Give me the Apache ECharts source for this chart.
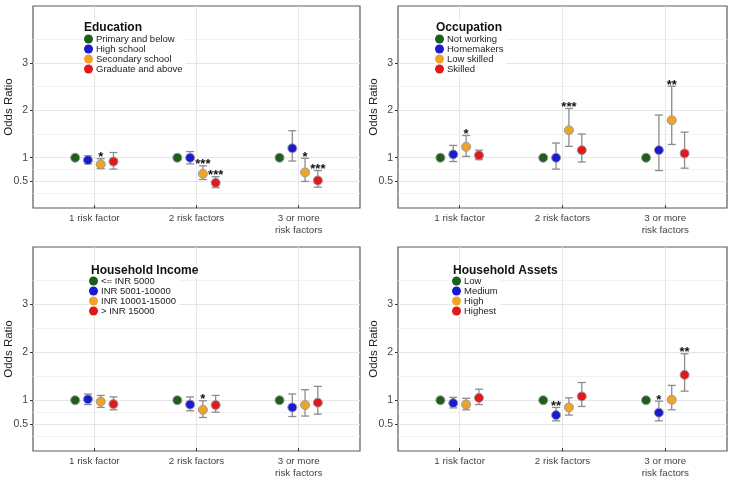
<!DOCTYPE html>
<html>
<head>
<meta charset="utf-8">
<script src="https://cdn.jsdelivr.net/npm/echarts@6/dist/echarts.min.js"></script>
<style>
  html, body { margin: 0; padding: 0; background: #fff; }
  #chart { width: 733px; height: 484px; }
</style>
</head>
<body>
<div id="chart"></div>
<script>
// x categories and y ticks
const categories = ['1 risk factor', '2 risk factors', '3 or more\nrisk factors'];
const yTicks = [0.5, 1, 2, 3];
const yMinor = [0.25, 0.75, 1.5, 2.5, 3.5];

const panelTitles = ['Education', 'Occupation', 'Household Income', 'Household Assets'];
const levelColors = ['#1d5e1d', '#1a1ad2', '#f0a326', '#e01a1a'];

// Education
const eduLevels = ['Primary and below', 'High school', 'Secondary school', 'Graduate and above'];
const eduOR  = [[1, 0.95, 0.86, 0.92], [1, 1.00, 0.66, 0.47], [1, 1.20, 0.69, 0.52]];
const eduLo  = [[null, 0.87, 0.77, 0.76], [null, 0.87, 0.54, 0.37], [null, 0.93, 0.50, 0.38]];
const eduHi  = [[null, 1.04, 0.98, 1.11], [null, 1.13, 0.83, 0.60], [null, 1.57, 0.99, 0.73]];
const eduSig = [['', '', '*', ''], ['', '', '***', '***'], ['', '', '*', '***']];

// Occupation
const occLevels = ['Not working', 'Homemakers', 'Low skilled', 'Skilled'];
const occOR  = [[1, 1.07, 1.23, 1.05], [1, 1.00, 1.58, 1.16], [1, 1.16, 1.79, 1.09]];
const occLo  = [[null, 0.92, 1.03, 0.96], [null, 0.76, 1.24, 0.91], [null, 0.73, 1.28, 0.78]];
const occHi  = [[null, 1.26, 1.47, 1.16], [null, 1.31, 2.04, 1.50], [null, 1.90, 2.51, 1.54]];
const occSig = [['', '', '*', ''], ['', '', '***', ''], ['', '', '**', '']];

// Household income
const incLevels = ['<= INR 5000', 'INR 5001-10000', 'INR 10001-15000', '> INR 15000'];
const incOR  = [[1, 1.02, 0.97, 0.92], [1, 0.91, 0.80, 0.90], [1, 0.85, 0.90, 0.95]];
const incLo  = [[null, 0.91, 0.85, 0.80], [null, 0.78, 0.64, 0.75], [null, 0.66, 0.67, 0.71]];
const incHi  = [[null, 1.13, 1.10, 1.07], [null, 1.07, 0.99, 1.10], [null, 1.13, 1.22, 1.29]];
const incSig = [['', '', '', ''], ['', '', '*', ''], ['', '', '', '']];

// Household assets
const astLevels = ['Low', 'Medium', 'High', 'Highest'];
const astOR  = [[1, 0.94, 0.91, 1.05], [1, 0.69, 0.85, 1.08], [1, 0.74, 1.01, 1.53]];
const astLo  = [[null, 0.84, 0.80, 0.91], [null, 0.57, 0.69, 0.87], [null, 0.57, 0.80, 1.19]];
const astHi  = [[null, 1.06, 1.04, 1.23], [null, 0.85, 1.05, 1.37], [null, 0.98, 1.31, 1.97]];
const astSig = [['', '', '', ''], ['', '**', '', ''], ['', '*', '', '**']];

const panels = [
  { levels: eduLevels, or: eduOR, lo: eduLo, hi: eduHi, sig: eduSig },
  { levels: occLevels, or: occOR, lo: occLo, hi: occHi, sig: occSig },
  { levels: incLevels, or: incOR, lo: incLo, hi: incHi, sig: incSig },
  { levels: astLevels, or: astOR, lo: astLo, hi: astHi, sig: astSig }
];

// layout
const grids = [
  { left: 33, top: 6, width: 327, height: 202 },
  { left: 398, top: 6, width: 329, height: 202 },
  { left: 33, top: 247, width: 327, height: 204 },
  { left: 398, top: 247, width: 329, height: 204 }
];
const legendPos = [
  { title: [83, 21], items: [84, 34] },
  { title: [435, 21], items: [435, 34] },
  { title: [90, 264], items: [89, 276] },
  { title: [452, 264], items: [452, 276] }
];
const dodge = [-0.1875, -0.0625, 0.0625, 0.1875];
const font = 'Liberation Sans, Arial, sans-serif';

const chart = echarts.init(document.getElementById('chart'));

function renderErr(params, api) {
  const x = api.value(0);
  const a = api.coord([x, api.value(1)]);
  const b = api.coord([x, api.value(2)]);
  const c = 4;
  const st = { stroke: '#8c8c8c', lineWidth: 1.3 };
  return {
    type: 'group',
    children: [
      { type: 'line', shape: { x1: a[0], y1: a[1], x2: b[0], y2: b[1] }, style: st },
      { type: 'line', shape: { x1: a[0] - c, y1: a[1], x2: a[0] + c, y2: a[1] }, style: st },
      { type: 'line', shape: { x1: b[0] - c, y1: b[1], x2: b[0] + c, y2: b[1] }, style: st }
    ]
  };
}

function makeSigRenderer(labels) {
  return function (params, api) {
    const p = api.coord([api.value(0), api.value(1)]);
    return {
      type: 'text',
      style: {
        x: p[0], y: p[1] - 7.5,
        text: labels[params.dataIndex],
        textAlign: 'center', textVerticalAlign: 'top',
        fontSize: 13, fontWeight: 'bold', fontFamily: font, fill: '#111'
      }
    };
  };
}

const option = {
  animation: false,
  backgroundColor: '#fff',
  title: [], legend: [], grid: [], xAxis: [], yAxis: [], series: []
};

panels.forEach((pn, i) => {
  option.grid.push(Object.assign({
    show: true, borderColor: '#5a5a5a', borderWidth: 1.2,
    containLabel: false, outerBoundsMode: 'none'
  }, grids[i]));
  option.xAxis.push({
    type: 'value', gridIndex: i, min: 0.4, max: 3.6,
    axisLine: { show: false }, splitLine: { show: false },
    axisTick: { show: true, customValues: [1, 2, 3], length: 3, lineStyle: { color: '#333' } },
    axisLabel: {
      customValues: [1, 2, 3], margin: 5,
      formatter: v => categories[Math.round(v) - 1],
      fontFamily: font, fontSize: 9.8, color: '#444', lineHeight: 11.5
    }
  });
  option.yAxis.push({
    type: 'value', gridIndex: i, min: -0.06, max: 4.2,
    name: 'Odds Ratio', nameLocation: 'middle', nameGap: 18, nameRotate: 90,
    nameMoveOverlap: false,
    nameTextStyle: { fontFamily: font, fontSize: 11.5, color: '#222' },
    axisLine: { show: false }, splitLine: { show: false },
    axisTick: { show: true, customValues: yTicks, length: 3, lineStyle: { color: '#333' } },
    axisLabel: { customValues: yTicks, margin: 5, fontFamily: font, fontSize: 10.5, color: '#444' }
  });
  option.title.push({
    text: panelTitles[i], left: legendPos[i].title[0], top: legendPos[i].title[1],
    padding: [1, 2, 1, 1], backgroundColor: '#fff', z: 6,
    textStyle: { fontFamily: font, fontSize: 12, fontWeight: 'bold', color: '#111' }
  });
  option.legend.push({
    data: pn.levels, orient: 'vertical',
    left: legendPos[i].items[0], top: legendPos[i].items[1],
    padding: [0, 3, 1, 0], backgroundColor: '#fff', z: 6,
    itemGap: 0, itemWidth: 9, itemHeight: 9, icon: 'circle',
    selectedMode: false,
    itemStyle: { borderWidth: 0 },
    textStyle: { fontFamily: font, fontSize: 9.5, color: '#222', lineHeight: 9.8, padding: [0, 0, 0, -2] }
  });

  // grid lines
  const gl = [];
  yMinor.forEach(v => gl.push({ yAxis: v, lineStyle: { color: '#efefef', width: 0.8, type: 'solid' } }));
  yTicks.forEach(v => gl.push({ yAxis: v, lineStyle: { color: '#e6e6e6', width: 1.1, type: 'solid' } }));
  [1, 2, 3].forEach(v => gl.push({ xAxis: v, lineStyle: { color: '#e6e6e6', width: 1.1, type: 'solid' } }));
  option.series.push({
    type: 'line', xAxisIndex: i, yAxisIndex: i, data: [], z: 0, silent: true,
    markLine: { silent: true, z: 0, symbol: 'none', label: { show: false }, animation: false, data: gl }
  });

  // error bars and significance
  const errData = [], sigData = [], sigLabels = [];
  pn.or.forEach((row, g) => {
    row.forEach((v, l) => {
      const x = g + 1 + dodge[l];
      if (pn.lo[g][l] != null) errData.push([x, pn.lo[g][l], pn.hi[g][l]]);
      if (pn.sig[g][l]) {
        sigData.push([x, pn.hi[g][l]]);
        sigLabels.push(pn.sig[g][l]);
      }
    });
  });
  option.series.push({
    type: 'custom', xAxisIndex: i, yAxisIndex: i, z: 2, silent: true,
    renderItem: renderErr, data: errData
  });
  option.series.push({
    type: 'custom', xAxisIndex: i, yAxisIndex: i, z: 4, silent: true,
    renderItem: makeSigRenderer(sigLabels), data: sigData
  });

  // points
  pn.levels.forEach((name, l) => {
    option.series.push({
      type: 'scatter', name: name, xAxisIndex: i, yAxisIndex: i, z: 3,
      symbol: 'circle', symbolSize: 9,
      itemStyle: { color: levelColors[l], borderColor: '#9a9a9a', borderWidth: 1, opacity: 1 },
      data: pn.or.map((row, g) => [g + 1 + dodge[l], row[l]])
    });
  });
});

chart.setOption(option);
</script>
</body>
</html>
